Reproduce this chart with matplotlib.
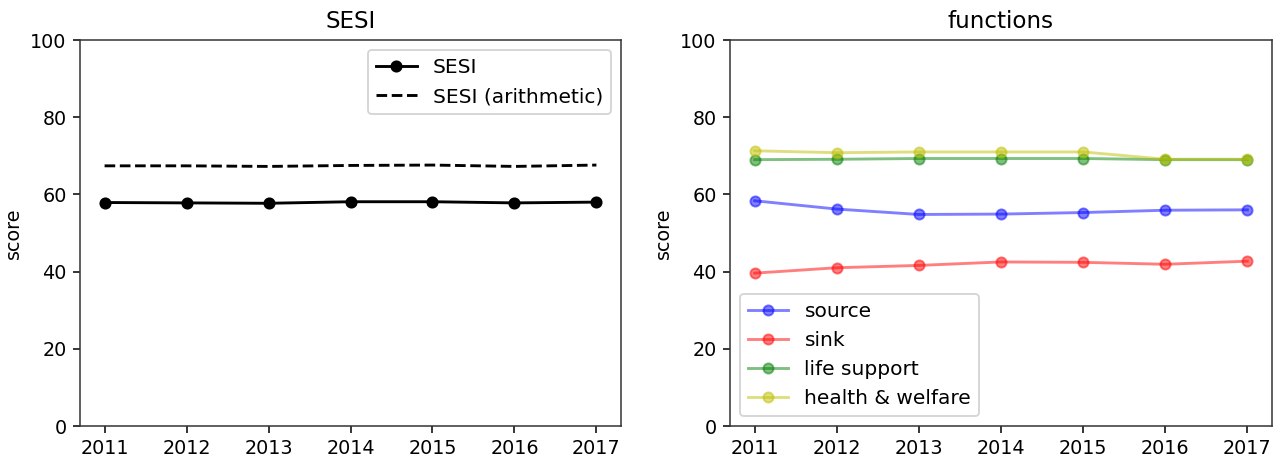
import matplotlib
matplotlib.use("Agg")
import matplotlib.pyplot as plt

years = [2011, 2012, 2013, 2014, 2015, 2016, 2017]

# left panel
sesi = [57.9, 57.8, 57.7, 58.1, 58.1, 57.8, 58.0]
sesi_arith = [67.4, 67.4, 67.25, 67.5, 67.6, 67.25, 67.6]

# right panel
source = [58.35, 56.2, 54.8, 54.9, 55.3, 55.9, 56.0]
sink = [39.6, 41.0, 41.6, 42.5, 42.4, 41.9, 42.7]
life_support = [69.0, 69.1, 69.3, 69.3, 69.3, 69.0, 69.0]
health_welfare = [71.3, 70.8, 71.0, 71.0, 71.0, 69.1, 69.1]

DPI = 138
plt.rcParams['lines.markersize'] = 5.3
plt.rcParams['legend.fontsize'] = 10.5
plt.rcParams['axes.edgecolor'] = '#333333'

fig = plt.figure(figsize=(1277 / DPI, 457 / DPI), dpi=DPI)

ax1 = fig.add_axes([80 / 1277, 1 - 426 / 457, 541 / 1277, 386 / 457])
ax2 = fig.add_axes([730 / 1277, 1 - 426 / 457, 542 / 1277, 386 / 457])

ax1.plot(years, sesi, 'o-', color='black', label='SESI')
ax1.plot(years, sesi_arith, '--', color='black', label='SESI (arithmetic)')
ax1.set_ylim(0, 100)
ax1.set_title('SESI')
ax1.set_ylabel('score')
ax1.legend(loc='upper right')

ax2.plot(years, source, 'o-', color='b', alpha=0.5, label='source')
ax2.plot(years, sink, 'o-', color='r', alpha=0.5, label='sink')
ax2.plot(years, life_support, 'o-', color='g', alpha=0.5, label='life support')
ax2.plot(years, health_welfare, 'o-', color='y', alpha=0.5, label='health & welfare')
ax2.set_ylim(0, 100)
ax2.set_title('functions')
ax2.set_ylabel('score')
ax2.legend(loc='lower left')

for ax in (ax1, ax2):
    ax.set_xticks(years)

fig.savefig('out.png', dpi=DPI)
